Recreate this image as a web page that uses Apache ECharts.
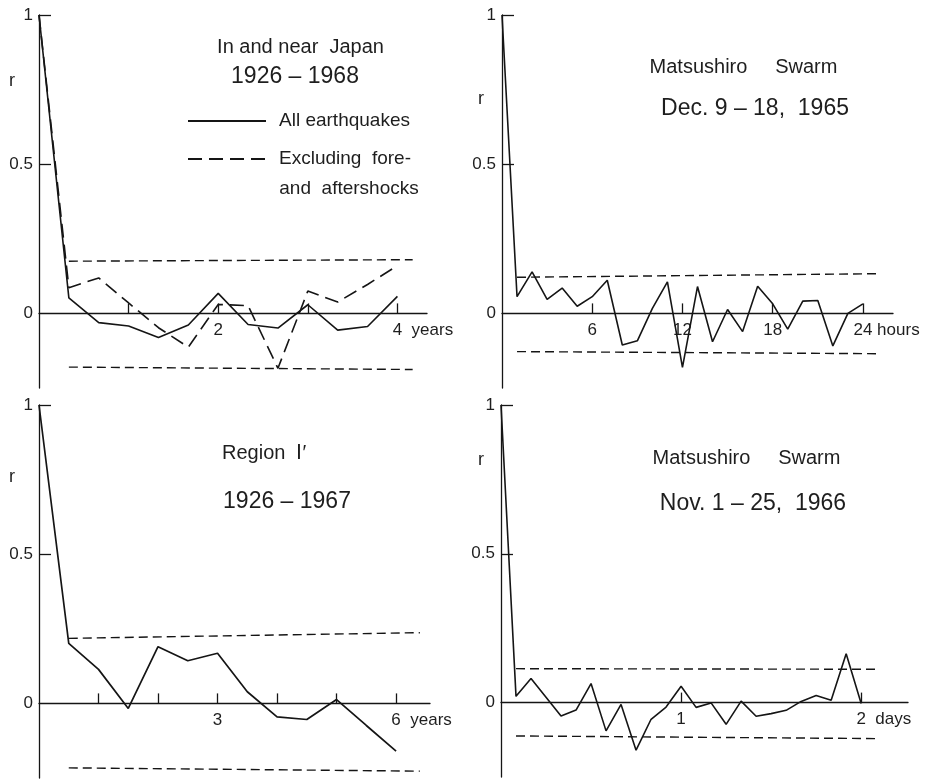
<!DOCTYPE html>
<html><head><meta charset="utf-8">
<script src="https://cdn.jsdelivr.net/npm/echarts@6/dist/echarts.min.js"></script>
<style>html,body{margin:0;padding:0;background:#fff}#c{width:928px;height:781px}</style>
</head><body><div id="c"></div>
<script>
// ---------- Panel 1: In and near Japan 1926-1968 (lag step = 1/3 year) ----------
const lagStep1 = 1 / 3;
const allQuakes1 = [1.0, 0.052, -0.031, -0.042, -0.081, -0.039, 0.067, -0.037, -0.049, 0.029, -0.056, -0.044, 0.057];
const exclQuakes1 = [1.0, 0.086, 0.119, 0.035, -0.048, -0.113, 0.030, 0.026, -0.184, 0.075, 0.038, 0.097, 0.160];
const band1X = [1 / 3, 4.17];
const band1Upper = [0.175, 0.180];
const band1Lower = [-0.180, -0.188];
const ticks1 = [1, 2, 3, 4];
const labels1 = [2, 4];

// ---------- Panel 2: Matsushiro Swarm Dec. 9-18, 1965 (lag step = 1 hour) ----------
const lagStep2 = 1;
const swarm1965 = [1.0, 0.056, 0.139, 0.047, 0.085, 0.024, 0.056, 0.111, -0.106, -0.092, 0.017, 0.106, -0.181,
  0.090, -0.095, 0.013, -0.061, 0.091, 0.032, -0.053, 0.041, 0.043, -0.109, 0.000, 0.032];
const band2X = [1, 24.9];
const band2Upper = [0.121, 0.133];
const band2Lower = [-0.128, -0.135];
const ticks2 = [6, 12, 18, 24];
const labels2 = [6, 12, 18, 24];

// ---------- Panel 3: Region I' 1926-1967 (lag step = 0.5 year) ----------
const lagStep3 = 0.5;
const region1 = [1.0, 0.201, 0.114, -0.017, 0.190, 0.143, 0.168, 0.039, -0.045, -0.054, 0.013, -0.074, -0.160];
const band3X = [0.5, 6.4];
const band3Upper = [0.218, 0.237];
const band3Lower = [-0.216, -0.227];
const ticks3 = [1, 2, 3, 4, 5, 6];
const labels3 = [3, 6];

// ---------- Panel 4: Matsushiro Swarm Nov. 1-25, 1966 (lag step = 2 hours = 1/12 day) ----------
const lagStep4 = 1 / 12;
const swarm1966 = [1.0, 0.021, 0.081, 0.018, -0.045, -0.025, 0.064, -0.095, -0.006, -0.160, -0.056, -0.015, 0.055,
  -0.016, -0.001, -0.073, 0.005, -0.046, -0.037, -0.026, 0.004, 0.024, 0.008, 0.164, -0.003];
const band4X = [1 / 12, 2.09];
const band4Upper = [0.114, 0.112];
const band4Lower = [-0.112, -0.121];
const ticks4 = [1, 2];
const labels4 = [1, 2];

const Y_MIN = -0.25, Y_MAX = 1;

const INK = '#151515';
const TXT = '#1e1e1e';
const FONT = '"Liberation Sans", Arial, sans-serif';
const LAB = 17;

const grids = [
  { left: 39, top: 15, width: 388, height: 373 },
  { left: 502, top: 15, width: 391, height: 373 },
  { left: 39, top: 405, width: 391, height: 373 },
  { left: 501, top: 405, width: 407, height: 372 }
];

const mctx = document.createElement('canvas').getContext('2d');
function textW(s, size) { mctx.font = size + 'px "Liberation Sans"'; return mctx.measureText(s).width; }

function pts(values, step) { return values.map((v, i) => [i * step, v]); }
function bandPts(xs, ys) { return [[xs[0], ys[0]], [xs[1], ys[1]]]; }

function xAxisDef(g, xMax, ticks, labels, unit) {
  const maxLab = labels[labels.length - 1];
  const W = textW(unit, LAB);
  // move the x axis (line, ticks, labels) up to the r = 0 level
  const off = -grids[g].height * (0 - Y_MIN) / (Y_MAX - Y_MIN);
  return {
    type: 'value', gridIndex: g, min: 0, max: xMax, position: 'bottom', offset: off,
    axisLine: { show: true, onZero: false, lineStyle: { color: INK, width: 1.3 } },
    axisTick: { show: true, inside: true, length: 10, customValues: ticks, lineStyle: { color: INK, width: 1.3 } },
    axisLabel: {
      show: true, customValues: labels, margin: 8, color: TXT, fontSize: LAB, fontFamily: FONT,
      formatter: v => v === maxLab ? '{p| }' + v + unit : String(v),
      rich: { p: { width: W, fontSize: LAB, fontFamily: FONT } }
    },
    splitLine: { show: false }
  };
}
function yAxisDef(g) {
  return {
    type: 'value', gridIndex: g, min: Y_MIN, max: Y_MAX, interval: 0.25,
    axisLine: { show: true, onZero: false, lineStyle: { color: INK, width: 1.3 } },
    axisTick: { show: true, inside: true, length: 12, customValues: [0.5, 1], lineStyle: { color: INK, width: 1.3 } },
    axisLabel: { show: true, customValues: [0, 0.5, 1], margin: 6, color: TXT, fontSize: LAB, fontFamily: FONT,
      formatter: v => v === 0.5 ? '0.5' : String(v) },
    splitLine: { show: false }
  };
}
function lineSeries(name, g, data, dash, width) {
  return {
    name, type: 'line', xAxisIndex: g, yAxisIndex: g, data, symbol: 'none', showSymbol: false,
    lineStyle: { color: INK, width: width || 1.6, type: dash || 'solid' }, itemStyle: { color: INK },
    silent: true, animation: false
  };
}
const BAND_DASH = [9, 5];

function txt(s, x, y, size, align) {
  return { type: 'text', x, y, silent: true,
    style: { text: s, fontSize: size, fontFamily: FONT, fill: TXT, align: align || 'center', verticalAlign: 'middle' } };
}

const chart = echarts.init(document.getElementById('c'), null, { renderer: 'canvas' });
chart.setOption({
  backgroundColor: '#ffffff',
  animation: false,
  grid: grids,
  xAxis: [
    xAxisDef(0, 4.33, ticks1, labels1, '  years'),
    xAxisDef(1, 26, ticks2, labels2, ' hours'),
    xAxisDef(2, 6.57, ticks3, labels3, '  years'),
    xAxisDef(3, 2.26, ticks4, labels4, '  days')
  ],
  yAxis: [yAxisDef(0), yAxisDef(1), yAxisDef(2), yAxisDef(3)],
  legend: {
    show: true, selectedMode: false, orient: 'vertical', left: 187, top: 111.5, padding: 0,
    itemWidth: 78, itemHeight: 20, itemGap: 19,
    data: ['All earthquakes', 'Excluding fore- and aftershocks'],
    formatter: n => n.indexOf('Excl') === 0 ? 'Excluding  fore-' : n,
    itemStyle: { opacity: 0 },
    textStyle: { fontSize: 19, fontFamily: FONT, color: TXT, padding: [0, 0, 0, 8] }
  },
  series: [
    lineSeries('Band 1 upper', 0, bandPts(band1X, band1Upper), BAND_DASH, 1.4),
    lineSeries('Band 1 lower', 0, bandPts(band1X, band1Lower), BAND_DASH, 1.4),
    lineSeries('Excluding fore- and aftershocks', 0, pts(exclQuakes1, lagStep1), [14, 7], 1.6),
    lineSeries('All earthquakes', 0, pts(allQuakes1, lagStep1), 'solid', 1.6),

    lineSeries('Band 2 upper', 1, bandPts(band2X, band2Upper), BAND_DASH, 1.4),
    lineSeries('Band 2 lower', 1, bandPts(band2X, band2Lower), BAND_DASH, 1.4),
    lineSeries('Dec 1965', 1, pts(swarm1965, lagStep2), 'solid', 1.6),

    lineSeries('Band 3 upper', 2, bandPts(band3X, band3Upper), BAND_DASH, 1.4),
    lineSeries('Band 3 lower', 2, bandPts(band3X, band3Lower), BAND_DASH, 1.4),
    lineSeries('Region I', 2, pts(region1, lagStep3), 'solid', 1.7),

    lineSeries('Band 4 upper', 3, bandPts(band4X, band4Upper), BAND_DASH, 1.4),
    lineSeries('Band 4 lower', 3, bandPts(band4X, band4Lower), BAND_DASH, 1.4),
    lineSeries('Nov 1966', 3, pts(swarm1966, lagStep4), 'solid', 1.6)
  ],
  graphic: [
    txt('In and near  Japan', 300.5, 47, 20),
    txt('1926 – 1968', 295, 76.5, 23),
    txt('and  aftershocks', 279.3, 189, 19, 'left'),
    txt('r', 12, 81, 18),

    txt('Matsushiro     Swarm', 743.5, 67, 20),
    txt('Dec. 9 – 18,  1965', 755, 109, 23),
    txt('r', 481, 99, 18),

    txt('Region  Ⅰ′', 222, 453, 20, 'left'),
    txt('1926 – 1967', 287, 502, 23),
    txt('r', 12, 477, 18),

    txt('Matsushiro     Swarm', 746.5, 458, 20),
    txt('Nov. 1 – 25,  1966', 753, 503.5, 23),
    txt('r', 481, 460, 18)
  ]
});
</script>
</body></html>
